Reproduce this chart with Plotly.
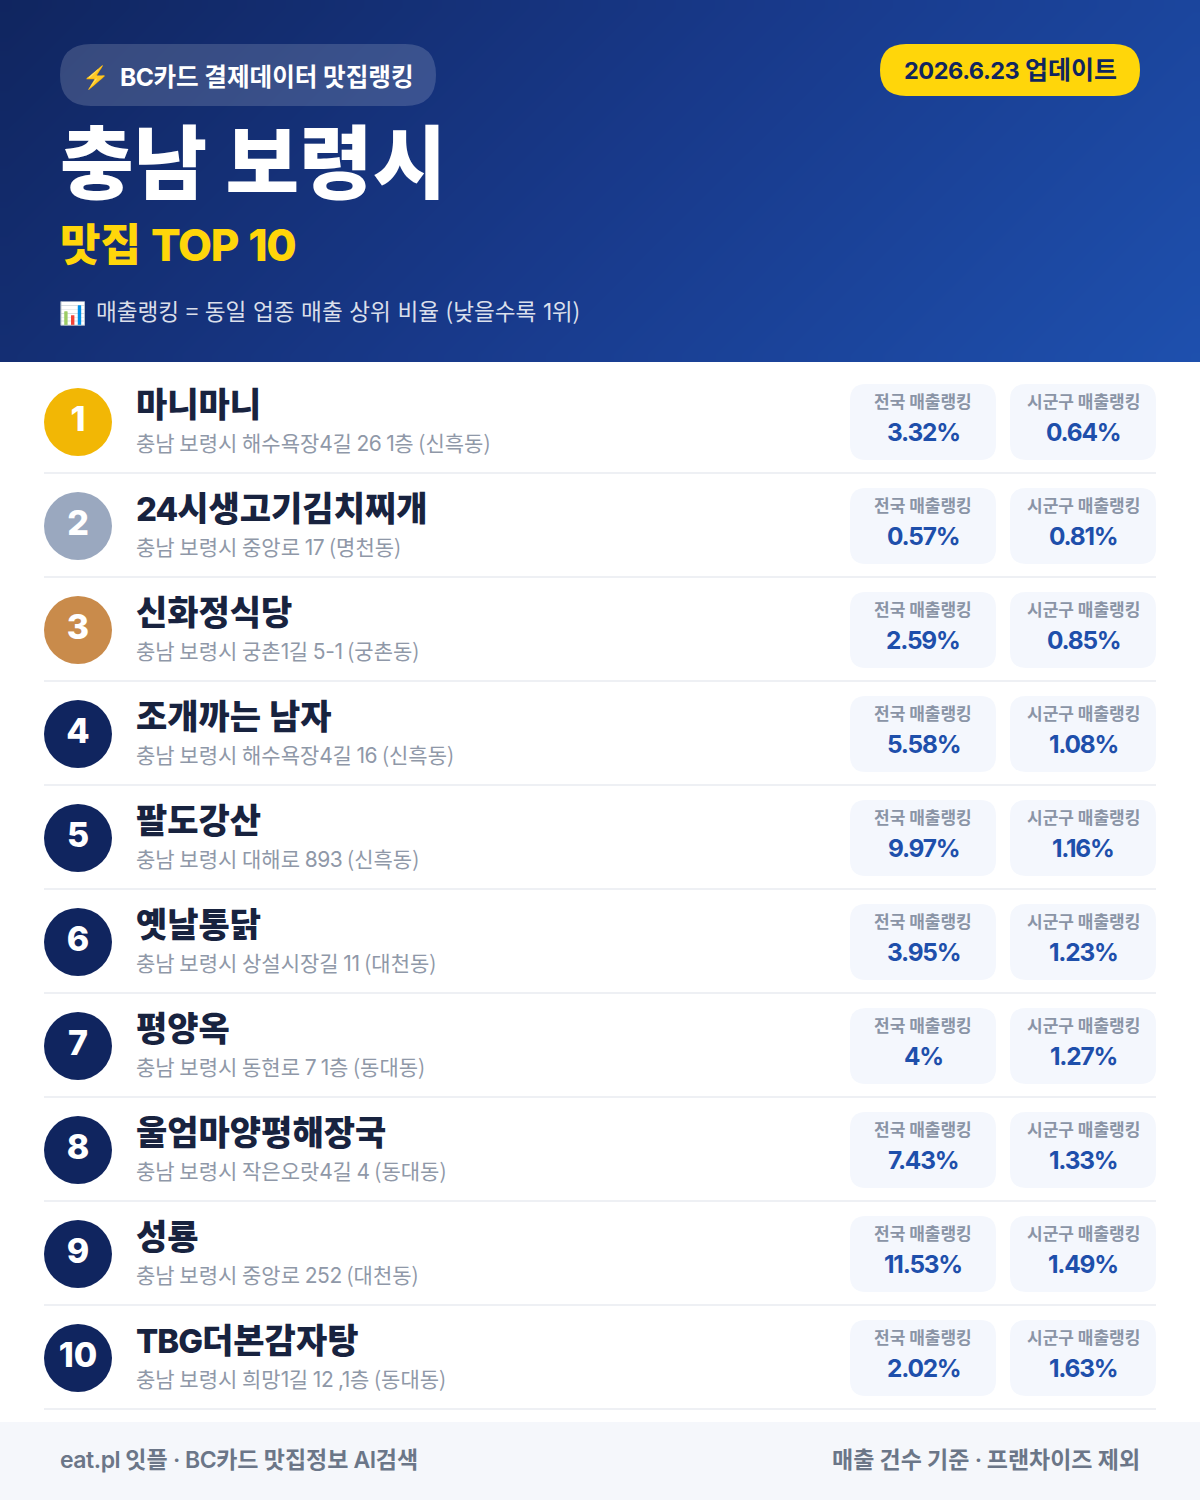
import re
import numpy as np
import plotly.graph_objects as go

names = ["마니마니", "24시생고기김치찌개", "신화정식당", "조개까는 남자", "팔도강산",
         "옛날통닭", "평양옥", "울엄마양평해장국", "성룡", "TBG더본감자탕"]
addresses = ["충남 보령시 해수욕장4길 26 1층 (신흑동)", "충남 보령시 중앙로 17 (명천동)",
             "충남 보령시 궁촌1길 5-1 (궁촌동)", "충남 보령시 해수욕장4길 16 (신흑동)",
             "충남 보령시 대해로 893 (신흑동)", "충남 보령시 상설시장길 11 (대천동)",
             "충남 보령시 동현로 7 1층 (동대동)", "충남 보령시 작은오랏4길 4 (동대동)",
             "충남 보령시 중앙로 252 (대천동)", "충남 보령시 희망1길 12 ,1층 (동대동)"]
national = [3.32, 0.57, 2.59, 5.58, 9.97, 3.95, 4, 7.43, 11.53, 2.02]
sigungu = [0.64, 0.81, 0.85, 1.08, 1.16, 1.23, 1.27, 1.33, 1.49, 1.63]
ranks = list(range(1, 11))
rank_colors = ["#F2B705", "#9AA8BF", "#C98B4B"] + ["#10255F"] * 7

FONT = "'Noto Sans CJK KR', sans-serif"
W, H, HEAD = 1200, 1500, 362
PITCH = 104


def rr(x0, y0, x1, y1, r):
    return (f"M{x0+r},{y0} L{x1-r},{y0} Q{x1},{y0} {x1},{y0+r} L{x1},{y1-r} Q{x1},{y1} {x1-r},{y1} "
            f"L{x0+r},{y1} Q{x0},{y1} {x0},{y1-r} L{x0},{y0+r} Q{x0},{y0} {x0+r},{y0} Z")


shapes, ann = [], []


def box(x0, y0, x1, y1, r, fill):
    shapes.append(dict(type="path", path=rr(x0, y0, x1, y1, r), fillcolor=fill, line_width=0))


def latin(s, size, scale, spacing):
    css = f"font-family:Inter;font-size:{size*scale:.2f}px;letter-spacing:{spacing}em"
    return re.sub(r"[A-Za-z0-9.,%\-·]+", lambda m: f'<span style="{css}">{m.group(0)}</span>', s)


def text(x, y, s, size, color, weight=400, anchor="left", scale=1.0, spacing=-0.02, gap=0):
    sep = f'<span style="word-spacing:{gap}px"> </span>' if gap else " "
    body = sep.join(latin(part, size, scale, spacing) for part in s.split(" "))
    ann.append(dict(x=x, y=y, text=body, showarrow=False, xanchor=anchor,
                    yanchor="middle", xref="x", yref="y", borderpad=0, borderwidth=0,
                    font=dict(family=FONT, size=size, color=color, weight=weight)))


# header gradient
xe = np.linspace(0, W, 81)
ye = np.linspace(0, HEAD, 25)
xc, yc = (xe[:-1] + xe[1:]) / 2, (ye[:-1] + ye[1:]) / 2
grad = (xc[None, :] + yc[:, None]) / (W + HEAD)
fig = go.Figure(go.Heatmap(x=xe, y=ye, z=grad, zmin=0, zmax=1, zsmooth="best", showscale=False,
                           hoverinfo="skip",
                           colorscale=[[0, "#10255F"], [0.5, "#18398A"], [1, "#1E50AE"]]))

# header content
box(60, 44, 436, 106, 31, "rgba(255,255,255,0.16)")
box(880, 44, 1140, 96, 26, "#FFD60A")
text(95, 75, "⚡", 22, "#FFC83D", 400, "center")
text(120, 75, "BC카드 결제데이터 맛집랭킹", 24.6, "#FFFFFF", 700)
text(1010, 67.5, "2026.6.23 업데이트", 25, "#10255F", 700, "center", scale=0.94)
text(60, 157, "충남 보령시", 80, "#FFFFFF", 900)
text(60, 242, "맛집 TOP 10", 44, "#FFD60A", 800, spacing=-0.03)
text(72, 311, "📊", 22, "#FFFFFF", 400, "center")
text(96, 310, "매출랭킹 = 동일 업종 매출 상위 비율 (낮을수록 1위)", 22.6, "rgba(255,255,255,0.85)", 400, gap=1.5)

# rows
for i, (n, a, nv, sv) in enumerate(zip(names, addresses, national, sigungu)):
    o = PITCH * i
    shapes.append(dict(type="line", x0=44, x1=1156, y0=473 + o, y1=473 + o,
                       line=dict(color="#EEF0F4", width=2)))
    box(850, 384 + o, 996, 460 + o, 16, "#F4F7FD")
    box(1010, 384 + o, 1156, 460 + o, 16, "#F4F7FD")
    text(136, 402 + o, n, 34, "#18233F", 800, scale=0.97, spacing=-0.03)
    text(136, 442 + o, a, 21, "#8F98A8", 400)
    text(923, 400 + o, "전국 매출랭킹", 17, "#8A94A6", 600, "center")
    text(1083, 400 + o, "시군구 매출랭킹", 17, "#8A94A6", 600, "center")
    text(923, 432 + o, f"{nv:g}%", 26, "#1E4FAB", 700, "center", scale=0.94, spacing=-0.05)
    text(1083, 432 + o, f"{sv:g}%", 26, "#1E4FAB", 700, "center", scale=0.94, spacing=-0.05)

fig.add_trace(go.Scatter(
    x=[78] * len(ranks), y=[422 + PITCH * i for i in range(len(ranks))], mode="markers+text",
    marker=dict(size=68, color=rank_colors, line_width=0), text=[str(r) for r in ranks],
    textposition="middle center", hoverinfo="skip",
    textfont=dict(family="Inter, sans-serif", size=34, color="#FFFFFF", weight=800), showlegend=False))

# footer
shapes.insert(0, dict(type="rect", x0=0, x1=W, y0=1422, y1=H, fillcolor="#F5F7FB", line_width=0))
text(60, 1458, "eat.pl 잇플 · BC카드 맛집정보 AI검색", 23, "#6B7688", 600)
text(1140, 1458, "매출 건수 기준 · 프랜차이즈 제외", 23, "#6B7688", 600, "right")

fig.update_layout(width=W, height=H, margin=dict(l=0, r=0, t=0, b=0), paper_bgcolor="#FFFFFF",
                  plot_bgcolor="#FFFFFF", shapes=shapes, annotations=ann, showlegend=False,
                  xaxis=dict(range=[0, W], visible=False, fixedrange=True),
                  yaxis=dict(range=[H, 0], visible=False, fixedrange=True))
fig.write_html("out.html", config=dict(displayModeBar=False),
               post_script="document.body.style.margin='0';")
